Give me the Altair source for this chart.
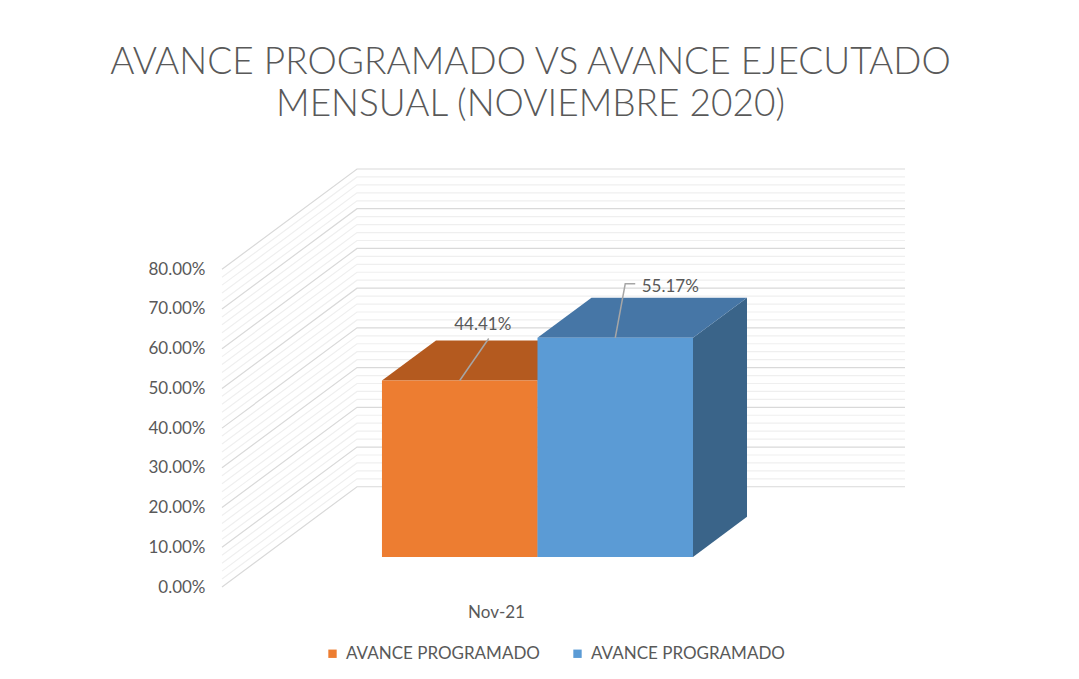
import altair as alt
import pandas as pd

# ---------------- data ----------------
TITLE_LINES = ["AVANCE PROGRAMADO VS AVANCE EJECUTADO", "MENSUAL (NOVIEMBRE 2020)"]
CATEGORY = "Nov-21"
SERIES_KEYS = ["programado", "ejecutado"]
SERIES_LABELS = ["AVANCE PROGRAMADO", "AVANCE PROGRAMADO"]
VALUES = [44.41, 55.17]                       # percent
Y_TICKS = [0, 10, 20, 30, 40, 50, 60, 70, 80]  # percent
GRID_STEP = 2

# ---------------- style ----------------
FRONT_COLORS = ["#ED7D31", "#5B9BD5"]
TOP_COLORS = ["#B45A1F", "#4676A6"]
SIDE_COLORS = ["#A9521B", "#3A6489"]
TEXT_COLOR = "#595959"
FONT = "Lato"

WIDTH, HEIGHT = 683, 418
DX = 0.2464            # depth of the 3-D box along x (category units)
DY = 25.24             # depth of the 3-D box along y (percent units)
Z_FRONT, Z_BACK = 0.3, 0.7
BAR_LEFT, BAR_W = 0.218, 0.2838
X_DOMAIN = [0, 1 + DX]
Y_DOMAIN = [0, Y_TICKS[-1] + DY]
PX_X = WIDTH / (X_DOMAIN[1] - X_DOMAIN[0])
PX_Y = HEIGHT / (Y_DOMAIN[1] - Y_DOMAIN[0])

# label / leader offsets in pixels, relative to front-top centre of each bar
LEADERS = [[(0, 0), (29, -42)], [(0, 0), (10, -54), (20, -54)]]
LABEL_OFF = [(23, -56), (55, -51)]

# ---------------- tables ----------------
grid_rows = []
for g in range(Y_TICKS[0], Y_TICKS[-1] + 1, GRID_STEP):
    kind = "major" if g % 10 == 0 else "minor"
    pts = [(0, g), (DX, g + DY), (1 + DX, g + DY)]
    for k, (px, py) in enumerate(pts):
        grid_rows.append({"lvl": g, "kind": kind, "ord": k, "x": px, "y": py})
grid_df = pd.DataFrame(grid_rows)

front_rows, top_rows, side_rows, lab_rows, lead_rows = [], [], [], [], []
for i, (key, v) in enumerate(zip(SERIES_KEYS, VALUES)):
    x0 = BAR_LEFT + i * BAR_W
    x1 = x0 + BAR_W
    front_rows.append({"s": key, "x": x0 + Z_FRONT * DX, "x2": x1 + Z_FRONT * DX,
                       "y": Z_FRONT * DY, "y2": v + Z_FRONT * DY})
    for z in (Z_FRONT, Z_BACK):
        top_rows.append({"s": key, "fill": TOP_COLORS[i], "y": v + z * DY,
                         "x": x0 + z * DX, "x2": x1 + z * DX})
        side_rows.append({"s": key, "fill": SIDE_COLORS[i], "x": x1 + z * DX,
                          "y": z * DY, "y2": v + z * DY})
    cx = x0 + Z_FRONT * DX + BAR_W / 2
    cy = v + Z_FRONT * DY
    for k, (ox, oy) in enumerate(LEADERS[i]):
        lead_rows.append({"s": key, "ord": k, "x": cx + ox / PX_X, "y": cy - oy / PX_Y})
    lab_rows.append({"s": key, "x": cx + LABEL_OFF[i][0] / PX_X,
                     "y": cy - LABEL_OFF[i][1] / PX_Y, "txt": f"{v:.2f}%"})

front_df = pd.DataFrame(front_rows)
top_df = pd.DataFrame(top_rows)
side_df = pd.DataFrame(side_rows)
lab_df = pd.DataFrame(lab_rows)
lead_df = pd.DataFrame(lead_rows)

# ---------------- scales / axes ----------------
xs = alt.Scale(domain=X_DOMAIN, nice=False, zero=False)
ys = alt.Scale(domain=Y_DOMAIN, nice=False, zero=False)
x_axis = alt.Axis(values=[0.5], labelExpr=f"'{CATEGORY}'", grid=False, domain=False,
                  ticks=False, labelPadding=17, labelFontSize=17, labelColor=TEXT_COLOR,
                  labelFont=FONT, title=None)
y_axis = alt.Axis(values=Y_TICKS, labelExpr="format(datum.value / 100, '.2%')", grid=False,
                  domain=False, ticks=False, labelPadding=17, labelFontSize=17,
                  labelColor=TEXT_COLOR, labelFont=FONT, title=None)


def X(f="x"):
    return alt.X(f"{f}:Q", scale=xs, axis=x_axis)


def Y(f="y"):
    return alt.Y(f"{f}:Q", scale=ys, axis=y_axis)


grid = alt.Chart(grid_df).mark_line(strokeWidth=1.2).encode(
    x=X(), y=Y(), detail="lvl:N", order="ord:Q",
    stroke=alt.Stroke("kind:N", scale=alt.Scale(domain=["major", "minor"],
                                                range=["#D9D9D9", "#EFEFEF"]), legend=None),
)

sides = alt.Chart(side_df).mark_area(orient="vertical").encode(
    x=X(), y=Y(), y2="y2:Q", detail="s:N",
    fill=alt.Fill("fill:N", scale=None),
)

tops = alt.Chart(top_df).mark_area(orient="horizontal").encode(
    y=Y(), x=X(), x2="x2:Q", detail="s:N",
    fill=alt.Fill("fill:N", scale=None),
)

label_expr = " : ".join(
    [f"datum.value == '{k}' ? '{l}'" for k, l in zip(SERIES_KEYS[:-1], SERIES_LABELS[:-1])]
    + [f"'{SERIES_LABELS[-1]}'"]
)

fronts = alt.Chart(front_df).mark_rect().encode(
    x=X(), x2="x2:Q", y=Y(), y2="y2:Q",
    color=alt.Color("s:N", scale=alt.Scale(domain=SERIES_KEYS, range=FRONT_COLORS),
                    legend=alt.Legend(orient="none", legendX=102, legendY=476,
                                      direction="horizontal", columns=2, title=None,
                                      symbolType="square", symbolSize=70, symbolStrokeWidth=0,
                                      labelFontSize=17, labelFont=FONT, labelColor=TEXT_COLOR,
                                      labelExpr=label_expr, columnPadding=29, labelOffset=5,
                                      labelLimit=0, padding=0)),
)

leaders = alt.Chart(lead_df).mark_line(color="#A6A6A6", strokeWidth=1.5).encode(
    x=X(), y=Y(), detail="s:N", order="ord:Q",
)

labels = alt.Chart(lab_df).mark_text(font=FONT, fontSize=17, color=TEXT_COLOR,
                                     align="center", baseline="middle").encode(
    x=X(), y=Y(), text="txt:N",
)

chart = alt.layer(grid, sides, tops, fronts, leaders, labels).properties(
    width=WIDTH, height=HEIGHT,
    title=alt.TitleParams(text=TITLE_LINES, font=FONT, fontWeight=300, fontSize=37,
                          color=TEXT_COLOR, anchor="middle", frame="group", dx=-33,
                          offset=43, lineHeight=42),
    autosize=alt.AutoSizeParams(type="none"),
    padding={"left": 222, "top": 169, "right": 174, "bottom": 92},
    background="white",
).configure_view(stroke=None)

chart.save("out.html", embed_options={"renderer": "svg", "actions": False})
